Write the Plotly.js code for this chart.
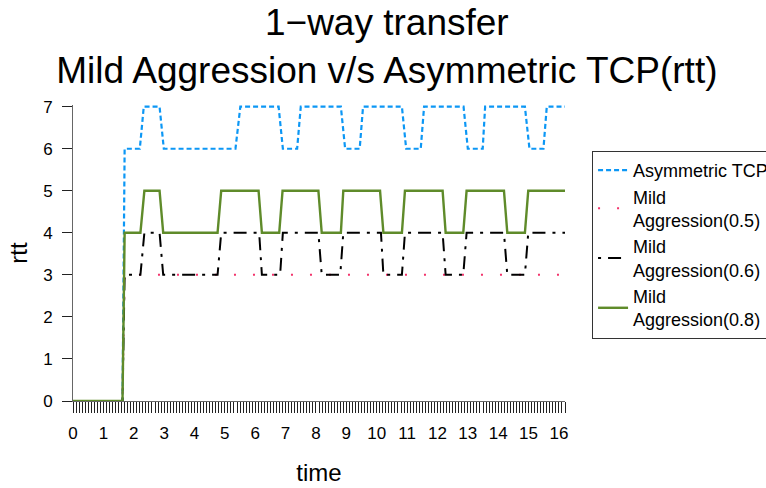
<!DOCTYPE html>
<html>
<head>
<meta charset="utf-8">
<script src="https://cdn.plot.ly/plotly-3.0.1.min.js"></script>
<style>body{margin:0;padding:0;background:#fff;} #chart{width:766px;height:488px;}</style>
</head>
<body>
<div id="chart"></div>
<script>
// Series names
var seriesNames = ["Asymmetric TCP", "Mild<br>Aggression(0.5)", "Mild<br>Aggression(0.6)", "Mild<br>Aggression(0.8)"];

// Asymmetric TCP (rtt vertices)
var asymTime = [0, 1.63, 1.7, 2.2, 2.33, 2.85, 2.99, 5.35, 5.51, 6.77, 6.91, 7.38, 7.5, 8.82, 8.96, 9.44, 9.55, 10.83, 10.97, 11.45, 11.56, 12.86, 13.0, 13.49, 13.57, 14.88, 15.03, 15.49, 15.6, 16.2];
var asymRtt  = [0, 0, 6, 6, 7, 7, 6, 6, 7, 7, 6, 6, 7, 7, 6, 6, 7, 7, 6, 6, 7, 7, 6, 6, 7, 7, 6, 6, 7, 7];

// Mild Aggression(0.5)
var mild05Time = [0, 1.63, 1.7, 16.2];
var mild05Rtt  = [0, 0, 3, 3];

// Mild Aggression(0.6)
var mild06Time = [0, 1.63, 1.7, 2.22, 2.35, 2.85, 2.97, 4.76, 4.88, 6.13, 6.22, 6.82, 6.91, 8.08, 8.19, 8.8, 8.9, 10.14, 10.22, 10.83, 10.93, 12.17, 12.27, 12.85, 12.96, 14.19, 14.3, 14.88, 14.99, 16.2];
var mild06Rtt  = [0, 0, 3, 3, 4, 4, 3, 3, 4, 4, 3, 3, 4, 4, 3, 3, 4, 4, 3, 3, 4, 4, 3, 3, 4, 4, 3, 3, 4, 4];

// Mild Aggression(0.8)
var mild08Time = [0, 1.63, 1.7, 2.22, 2.35, 2.85, 2.97, 4.76, 4.88, 6.11, 6.22, 6.79, 6.9, 8.08, 8.19, 8.82, 8.9, 10.11, 10.22, 10.83, 10.93, 12.17, 12.27, 12.85, 12.96, 14.19, 14.3, 14.88, 14.99, 16.2];
var mild08Rtt  = [0, 0, 4, 4, 5, 5, 4, 4, 5, 5, 4, 4, 5, 5, 4, 4, 5, 5, 4, 4, 5, 5, 4, 4, 5, 5, 4, 4, 5, 5];

// Tick labels
var xTickVals = [0, 1, 2, 3, 4, 5, 6, 7, 8, 9, 10, 11, 12, 13, 14, 15, 16];
var yTickVals = [0, 1, 2, 3, 4, 5, 6, 7];

var traces = [
  {x: asymTime, y: asymRtt, name: seriesNames[0], mode: "lines",
   line: {color: "#0C97F5", width: 2.2, dash: "5px,3px"}},
  {x: mild05Time, y: mild05Rtt, name: seriesNames[1], mode: "lines",
   line: {color: "#F2336B", width: 2, dash: "2px,17px"}},
  {x: mild06Time, y: mild06Rtt, name: seriesNames[2], mode: "lines",
   line: {color: "#000000", width: 2, dash: "3px,7px,13px,7px"}},
  {x: mild08Time, y: mild08Rtt, name: seriesNames[3], mode: "lines",
   line: {color: "#5F8B2A", width: 2.4}}
];

var layout = {
  width: 766, height: 488,
  paper_bgcolor: "#ffffff", plot_bgcolor: "#ffffff",
  font: {family: "Liberation Sans, Arial, sans-serif", color: "#000"},
  margin: {l: 72.5, r: 201, t: 105, b: 87, autoexpand: false},
  title: {text: "1\u2212way transfer<br>Mild Aggression v/s Asymmetric TCP(rtt)",
          font: {size: 37, color: "#000"}, x: 0.505, xref: "container", xanchor: "center",
          y: 0.929, yref: "container", yanchor: "top"},
  showlegend: true,
  legend: {x: 1.055, xanchor: "left", y: 0.845, yanchor: "top",
           bordercolor: "#333", borderwidth: 1, bgcolor: "#fff",
           font: {size: 18, color: "#000"}, tracegroupgap: 0},
  xaxis: {range: [0, 16.2], tickvals: xTickVals, ticks: "outside", ticklen: 11, tickwidth: 1, tickcolor: "#222",
          showline: true, linecolor: "#666", linewidth: 1, showgrid: false, zeroline: false,
          tickfont: {size: 17}, ticklabelstandoff: 6,
          minor: {dtick: 0.1, ticks: "outside", ticklen: 11, tickwidth: 1, tickcolor: "#222", showgrid: false},
          title: {text: "time", font: {size: 24}, standoff: 21}},
  yaxis: {range: [0, 7.04], tickvals: yTickVals, ticks: "outside", ticklen: 10, tickwidth: 1, tickcolor: "#222",
          showline: true, linecolor: "#666", linewidth: 1, showgrid: false, zeroline: false,
          tickfont: {size: 17}, ticklabelstandoff: 6,
          title: {text: "rtt", font: {size: 24}, standoff: 8}}
};

Plotly.newPlot("chart", traces, layout, {displayModeBar: false, staticPlot: true});
</script>
</body>
</html>
